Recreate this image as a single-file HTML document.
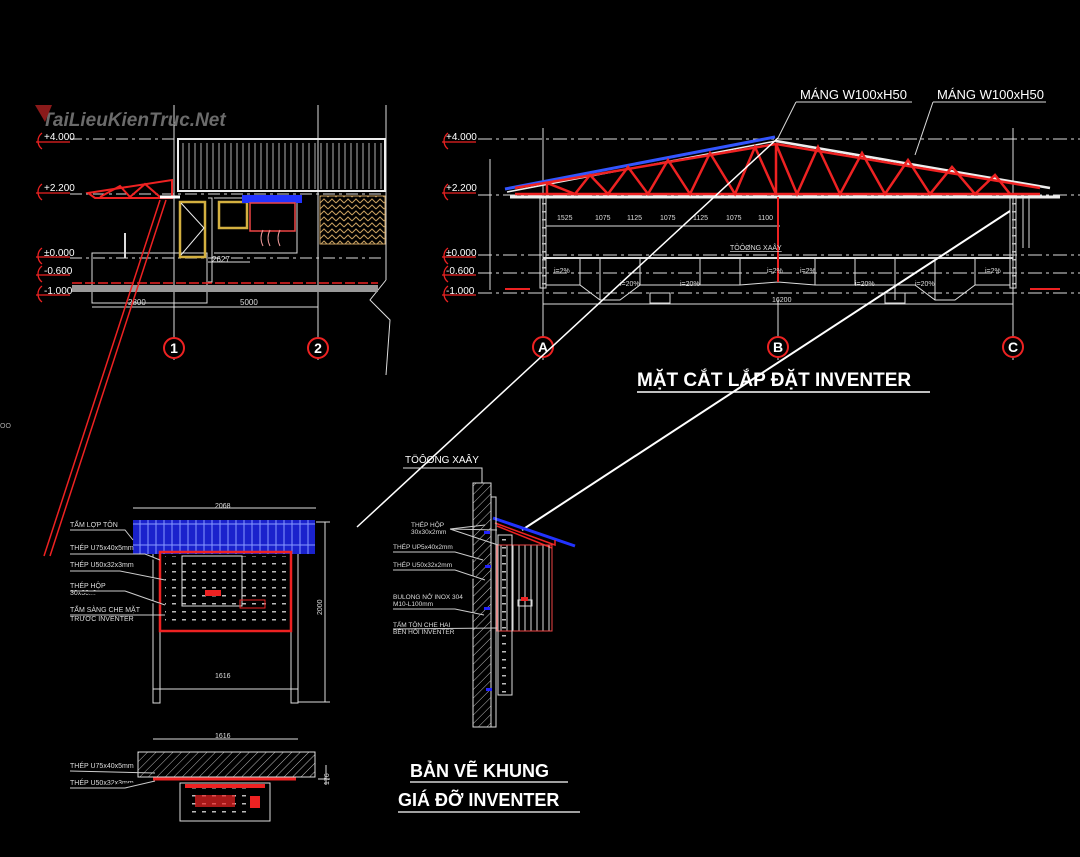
<!DOCTYPE html>
<html><head><meta charset="utf-8"><style>
html,body{margin:0;padding:0;background:#000;}
svg{display:block;font-family:"Liberation Sans",sans-serif;}
</style></head><body>
<svg width="1080" height="857" viewBox="0 0 1080 857" xmlns="http://www.w3.org/2000/svg">
<defs>
<pattern id="hatch" width="6" height="6" patternUnits="userSpaceOnUse" patternTransform="rotate(45)"><line x1="0" y1="0" x2="0" y2="6" stroke="#bbb" stroke-width="1"/></pattern>
<pattern id="zig" width="8" height="6" patternUnits="userSpaceOnUse"><path d="M0 5 L4 1 L8 5" stroke="#c8a060" fill="none" stroke-width="1"/></pattern>
<pattern id="vst" width="6" height="10" patternUnits="userSpaceOnUse"><line x1="3" y1="0" x2="3" y2="10" stroke="#ddd" stroke-width="1"/></pattern>
<pattern id="dots" width="10" height="8" patternUnits="userSpaceOnUse"><rect x="2" y="3" width="4" height="1.5" fill="#bbb"/></pattern>
</defs>
<rect width="1080" height="857" fill="#000"/>

<!-- ============ LEFT ELEVATION ============ -->
<g stroke="#ddd" stroke-width="1" fill="none">
<line x1="70" y1="139" x2="385" y2="139" stroke-dasharray="12,4,3,4"/>
<line x1="70" y1="194" x2="385" y2="194" stroke-dasharray="12,4,3,4"/>
<line x1="70" y1="258" x2="385" y2="258" stroke-dasharray="12,4,3,4"/>
<line x1="174" y1="105" x2="174" y2="360"/>
<line x1="318" y1="105" x2="318" y2="360"/>
<line x1="386" y1="105" x2="386" y2="280"/>
<path d="M386 280 L370 300 L390 320 L386 375"/>
<rect x="178" y="139" width="207" height="52" stroke="#eee" stroke-width="2"/>
<rect x="178" y="143" width="207" height="46" fill="url(#vst)" stroke="none" opacity="0.8"/>
<rect x="92" y="253" width="115" height="50"/>
<line x1="125" y1="233" x2="125" y2="258" stroke-width="2"/>
<path d="M208 198 L212 198 L212 282 L208 282"/>
<path d="M214 198 L297 198 L297 253 L214 253"/>
<line x1="92" y1="307" x2="318" y2="307"/>
<line x1="208" y1="262" x2="250" y2="262"/>
</g>
<rect x="72" y="285" width="306" height="7" fill="#999"/>
<line x1="72" y1="283" x2="378" y2="283" stroke="#e22" stroke-width="1.5" stroke-dasharray="10,3"/>
<rect x="320" y="196" width="65" height="48" fill="url(#zig)" stroke="#c8a060"/>
<rect x="180" y="202" width="25" height="55" fill="none" stroke="#d4b040" stroke-width="2.5"/>
<path d="M181 203 L204 228 L181 255" stroke="#eee" fill="none"/>
<rect x="219" y="202" width="28" height="26" fill="none" stroke="#d4b040" stroke-width="2.5"/>
<rect x="242" y="195" width="60" height="8" fill="#2233ff"/>
<rect x="250" y="203" width="45" height="28" fill="none" stroke="#e44" stroke-width="1.5"/>
<path d="M263 230 q-4 8 0 16 M270 230 q-4 8 0 16 M280 230 q-4 8 0 16" stroke="#e99" fill="none"/>
<path d="M88 193 L172 180 L172 198 L95 198 Z" fill="none" stroke="#e22" stroke-width="2"/>
<path d="M100 197 L120 186 L130 197 L145 184 L160 197" stroke="#e22" fill="none" stroke-width="2"/>
<line x1="160" y1="197" x2="180" y2="197" stroke="#fff" stroke-width="3"/>
<g fill="#ddd" font-size="8"><text x="212" y="262">2627</text><text x="128" y="305">2800</text><text x="240" y="305">5000</text></g>
<!-- left level marks -->
<g font-size="10" fill="#fff">
<g stroke="#e22" fill="none" stroke-width="1.3">
<path d="M42 133 a10 10 0 0 0 0 16 M36 142 L70 142"/>
<path d="M42 184 a10 10 0 0 0 0 16 M36 193 L70 193"/>
<path d="M42 248 a10 10 0 0 0 0 16 M36 257 L70 257"/>
<path d="M42 266 a10 10 0 0 0 0 16 M36 275 L70 275"/>
<path d="M42 286 a10 10 0 0 0 0 16 M36 295 L70 295"/>
</g>
<text x="44" y="140">+4.000</text><text x="44" y="191">+2.200</text><text x="44" y="256">±0.000</text><text x="44" y="274">-0.600</text><text x="44" y="294">-1.000</text>
</g>
<text x="42" y="126" font-size="19" font-weight="bold" font-style="italic" fill="#777" opacity="0.9">TaiLieuKienTruc.Net</text>
<path d="M35 105 L52 105 L45 122 Z" fill="#8a1a1a"/>
<g stroke="#e22" stroke-width="2" fill="#000"><circle cx="174" cy="348" r="10"/><circle cx="318" cy="348" r="10"/></g>
<g font-size="14" font-weight="bold" fill="#fff" text-anchor="middle"><text x="174" y="353">1</text><text x="318" y="353">2</text></g>
<!-- red diagonal -->
<g stroke="#e22" stroke-width="1.5"><line x1="160" y1="200" x2="44" y2="556"/><line x1="166" y1="200" x2="50" y2="556"/></g>
<text x="0" y="428" font-size="7" fill="#aaa">OO</text>

<!-- ============ RIGHT SECTION ============ -->
<g stroke="#ddd" stroke-width="1" fill="none">
<line x1="478" y1="139" x2="1080" y2="139" stroke-dasharray="14,4,3,4"/>
<line x1="478" y1="195" x2="1080" y2="195" stroke-dasharray="14,4,3,4"/>
<line x1="478" y1="255" x2="1080" y2="255" stroke-dasharray="14,4,3,4"/>
<line x1="478" y1="273" x2="1080" y2="273" stroke-dasharray="14,4,3,4"/>
<line x1="478" y1="293" x2="1080" y2="293" stroke-dasharray="14,4,3,4"/>
<line x1="543" y1="128" x2="543" y2="360"/>
<line x1="778" y1="300" x2="778" y2="360"/>
<line x1="1013" y1="128" x2="1013" y2="360"/>
<line x1="490" y1="159" x2="490" y2="290"/>
<line x1="543" y1="304" x2="1013" y2="304"/>
<rect x="540" y="198" width="6" height="90" fill="url(#dots)"/>
<rect x="1010" y="198" width="6" height="90" fill="url(#dots)"/>
<line x1="543" y1="258" x2="1013" y2="258" stroke-width="2"/>
<path d="M546 285 L580 285 L600 300 L620 300 L640 285 L740 285 L778 282 L815 285 L915 285 L935 300 L955 300 L975 285 L1010 285"/>
<line x1="546" y1="226" x2="780" y2="226"/>
</g>
<!-- roof -->
<line x1="505" y1="189" x2="775" y2="137" stroke="#3355ff" stroke-width="3"/>
<line x1="507" y1="192" x2="776" y2="141" stroke="#eee" stroke-width="1.5"/>
<line x1="776" y1="141" x2="1050" y2="188" stroke="#eee" stroke-width="2.5"/>
<line x1="510" y1="197" x2="1060" y2="197" stroke="#eee" stroke-width="3"/>
<g stroke="#e22" stroke-width="2.5" fill="none">
<line x1="515" y1="194" x2="1040" y2="194"/>
<line x1="515" y1="188" x2="776" y2="144"/>
<line x1="776" y1="144" x2="1040" y2="188"/>
<path d="M547 194 L547 183 L575 194 L590 175 L608 194 L628 167 L648 194 L668 160 L690 194 L710 153 L735 194 L755 147 L776 194 L776 144 L797 194 L818 147 L840 194 L862 153 L885 194 L908 160 L930 194 L952 167 L975 194 L995 175 L1010 194"/>
<line x1="778" y1="197" x2="778" y2="282" stroke-width="2"/>
</g>
<rect x="1018" y="198" width="14" height="50" fill="url(#vst)"/>
<g font-size="7" fill="#ddd"><text x="557" y="220">1525</text><text x="595" y="220">1075</text><text x="627" y="220">1125</text><text x="660" y="220">1075</text><text x="693" y="220">1125</text><text x="726" y="220">1075</text><text x="758" y="220">1100</text><text x="772" y="302">16200</text>
<text x="730" y="250" text-decoration="underline">TÖÔØNG XAÂY</text>
<text x="554" y="273">i=2%</text><text x="620" y="286">i=20%</text><text x="680" y="286">i=20%</text><text x="767" y="273">i=2%</text><text x="800" y="273">i=2%</text><text x="855" y="286">i=20%</text><text x="915" y="286">i=20%</text><text x="985" y="273">i=2%</text></g>
<g stroke="#ddd" fill="none"><path d="M580 258 L580 285 M600 258 L600 300 M640 258 L640 285 M700 258 L700 285 M740 258 L740 285 M815 258 L815 285 M855 258 L855 285 M895 258 L895 300 M935 258 L935 300 M975 258 L975 285"/></g>
<rect x="650" y="293" width="20" height="10" fill="none" stroke="#ddd"/><rect x="885" y="293" width="20" height="10" fill="none" stroke="#ddd"/>
<g stroke="#e22" stroke-width="2"><line x1="505" y1="289" x2="530" y2="289"/><line x1="1030" y1="289" x2="1060" y2="289"/></g>
<g font-size="10" fill="#fff">
<g stroke="#e22" fill="none" stroke-width="1.3">
<path d="M448 133 a10 10 0 0 0 0 16 M442 142 L476 142"/>
<path d="M448 184 a10 10 0 0 0 0 16 M442 193 L476 193"/>
<path d="M448 248 a10 10 0 0 0 0 16 M442 257 L476 257"/>
<path d="M448 266 a10 10 0 0 0 0 16 M442 275 L476 275"/>
<path d="M448 286 a10 10 0 0 0 0 16 M442 295 L476 295"/>
</g>
<text x="446" y="140">+4.000</text><text x="446" y="191">+2.200</text><text x="446" y="256">±0.000</text><text x="446" y="274">-0.600</text><text x="446" y="294">-1.000</text>
</g>
<g stroke="#e22" stroke-width="2" fill="#000"><circle cx="543" cy="347" r="10"/><circle cx="778" cy="347" r="10"/><circle cx="1013" cy="347" r="10"/></g>
<g font-size="14" font-weight="bold" fill="#fff" text-anchor="middle"><text x="543" y="352">A</text><text x="778" y="352">B</text><text x="1013" y="352">C</text></g>
<g fill="#fff" font-size="13"><text x="800" y="99">MÁNG  W100xH50</text><text x="937" y="99">MÁNG  W100xH50</text></g>
<g stroke="#ddd"><line x1="796" y1="102" x2="912" y2="102"/><line x1="933" y1="102" x2="1046" y2="102"/><line x1="796" y1="102" x2="778" y2="138"/><line x1="933" y1="102" x2="915" y2="155"/></g>
<text x="637" y="386" font-size="19" font-weight="bold" fill="#fff">MẶT CẮT LẮP ĐẶT INVENTER</text>
<line x1="637" y1="392" x2="930" y2="392" stroke="#fff" stroke-width="1.5"/>
<!-- long diagonals -->
<line x1="778" y1="138" x2="357" y2="527" stroke="#fff" stroke-width="1.5"/>
<line x1="1010" y1="211" x2="522" y2="530" stroke="#fff" stroke-width="2"/>

<!-- ============ FRONT VIEW ============ -->
<g stroke="#ddd" fill="none">
<line x1="133" y1="508" x2="316" y2="508"/><line x1="316" y1="522" x2="330" y2="522"/><line x1="325" y1="522" x2="325" y2="702"/><line x1="298" y1="702" x2="330" y2="702"/>
<rect x="153" y="545" width="7" height="158"/><rect x="291" y="545" width="7" height="158"/>
<line x1="153" y1="689" x2="298" y2="689"/>
</g>
<rect x="133" y="520" width="182" height="34" fill="#1a22cc"/>
<g stroke="#8899ff" stroke-width="1"><line x1="133" y1="524" x2="315" y2="524"/><line x1="133" y1="545" x2="315" y2="545"/>
<path d="M140 520v34M148 520v34M156 520v34M164 520v34M172 520v34M180 520v34M188 520v34M196 520v34M204 520v34M212 520v34M220 520v34M228 520v34M236 520v34M244 520v34M252 520v34M260 520v34M268 520v34M276 520v34M284 520v34M292 520v34M300 520v34M308 520v34"/></g>
<rect x="160" y="552" width="131" height="79" fill="none" stroke="#e22" stroke-width="2.5"/>
<rect x="165" y="556" width="121" height="70" fill="url(#dots)"/>
<rect x="182" y="556" width="60" height="50" fill="none" stroke="#ddd"/>
<rect x="205" y="590" width="16" height="6" fill="#e22"/><rect x="240" y="600" width="25" height="8" fill="none" stroke="#e22"/>
<g font-size="7" fill="#ddd"><text x="215" y="508">2068</text><text x="215" y="678">1616</text><text x="322" y="615" transform="rotate(-90 322 615)">2000</text>
<text x="70" y="527">TẤM LỢP TÔN</text><text x="70" y="550">THÉP U75x40x5mm</text><text x="70" y="567">THÉP U50x32x3mm</text><text x="70" y="588">THÉP HỘP</text><text x="70" y="595">30x30x3mm</text><text x="70" y="612">TẤM SÀNG CHE MẶT</text><text x="70" y="621">TRƯỚC INVENTER</text></g>
<g stroke="#ccc"><path d="M70 530 L125 530 L133 540 M70 554 L145 554 L160 560 M70 571 L120 571 L165 580 M70 591 L125 591 L165 605 M70 615 L165 615"/></g>

<!-- ============ PLAN ============ -->
<line x1="153" y1="739" x2="298" y2="739" stroke="#ddd"/>
<text x="215" y="738" font-size="7" fill="#ddd">1616</text>
<rect x="138" y="752" width="177" height="25" fill="url(#hatch)" stroke="#ddd"/>
<line x1="153" y1="779" x2="296" y2="779" stroke="#e22" stroke-width="3"/>
<rect x="180" y="783" width="90" height="38" fill="none" stroke="#ddd"/>
<rect x="186" y="788" width="60" height="25" fill="url(#dots)"/>
<rect x="185" y="784" width="80" height="4" fill="#e22"/>
<g fill="#e22"><rect x="195" y="795" width="40" height="12" opacity="0.7"/><rect x="250" y="796" width="10" height="12"/></g>
<g stroke="#ddd"><line x1="318" y1="779" x2="330" y2="779"/><line x1="326" y1="765" x2="326" y2="785"/></g>
<text x="329" y="785" font-size="7" fill="#ddd" transform="rotate(-90 329 785)">176</text>
<g font-size="7" fill="#ddd"><text x="70" y="768">THÉP U75x40x5mm</text><text x="70" y="785">THÉP U50x32x3mm</text></g>
<g stroke="#ccc"><path d="M70 771 L155 773 M70 788 L125 788 L155 781"/></g>

<!-- ============ SIDE VIEW ============ -->
<text x="405" y="463" font-size="10" fill="#fff">TÖÔØNG XAÂY</text>
<path d="M403 468 L482 468 L482 483" stroke="#ddd" fill="none"/>
<rect x="473" y="483" width="18" height="244" fill="url(#hatch)" stroke="#ddd"/>
<line x1="493" y1="518" x2="575" y2="546" stroke="#2233ff" stroke-width="3"/>
<path d="M495 523 L555 545 L555 540 M497 526 L552 548" stroke="#e22" fill="none" stroke-width="1.5"/>
<rect x="497" y="545" width="55" height="86" fill="url(#vst)" stroke="#e44"/>
<rect x="498" y="535" width="14" height="160" fill="none" stroke="#ddd"/>
<rect x="500" y="537" width="10" height="156" fill="url(#dots)"/>
<rect x="491" y="497" width="5" height="230" fill="none" stroke="#ddd"/>
<g fill="#22f"><rect x="484" y="531" width="6" height="3"/><rect x="485" y="565" width="6" height="3"/><rect x="484" y="607" width="6" height="3"/><rect x="486" y="688" width="6" height="3"/></g>
<rect x="518" y="600" width="14" height="6" fill="none" stroke="#ddd"/><rect x="521" y="597" width="7" height="4" fill="#e22"/>
<g font-size="6.5" fill="#ddd"><text x="411" y="527">THÉP HỘP</text><text x="411" y="534">30x30x2mm</text><text x="393" y="549">THÉP UP5x40x2mm</text><text x="393" y="567">THÉP U50x32x2mm</text><text x="393" y="599">BULONG NỞ INOX 304</text><text x="393" y="606">M10-L100mm</text><text x="393" y="627">TẤM TÔN CHE HAI</text><text x="393" y="634">BÊN HÔI INVENTER</text></g>
<g stroke="#ccc"><path d="M450 529 L485 525 M450 529 L498 545 M450 529 L497 530 M393 552 L455 552 L483 560 M393 570 L455 570 L485 580 M393 609 L455 609 L484 615 M393 629 L497 628"/></g>
<text x="410" y="777" font-size="18" font-weight="bold" fill="#fff">BẢN VẼ KHUNG</text>
<line x1="410" y1="782" x2="568" y2="782" stroke="#fff" stroke-width="1.3"/>
<text x="398" y="806" font-size="18" font-weight="bold" fill="#fff">GIÁ ĐỠ INVENTER</text>
<line x1="398" y1="812" x2="580" y2="812" stroke="#fff" stroke-width="1.3"/>
</svg>
</body></html>
